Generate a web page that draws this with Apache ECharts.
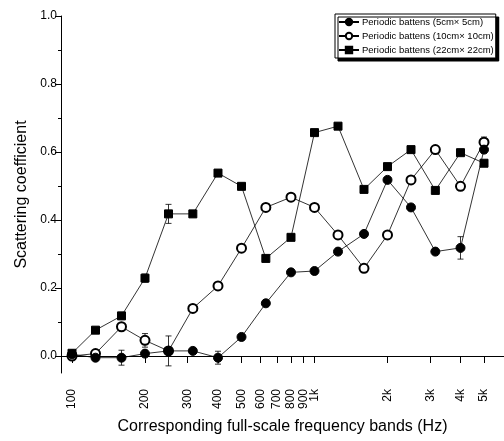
<!DOCTYPE html>
<html>
<head>
<meta charset="utf-8">
<script src="https://cdn.jsdelivr.net/npm/echarts@6/dist/echarts.min.js"></script>
<style>
  html, body { margin: 0; padding: 0; background: #fff; }
  #chart { width: 504px; height: 441px; }
</style>
</head>
<body>
<div id="chart"></div>
<script>
// third-octave band centres (Hz)
var freqs = [100, 125, 160, 200, 250, 315, 400, 500, 630, 800, 1000, 1250, 1600, 2000, 2500, 3150, 4000, 5000]

var names = ['Periodic battens (5cm\u00d7 5cm)', 'Periodic battens (10cm\u00d7 10cm)', 'Periodic battens (22cm\u00d7 22cm)']

var battens5 = [0.005, -0.005, -0.005, 0.007, 0.015, 0.015, -0.005, 0.056, 0.155, 0.246, 0.25, 0.307, 0.359, 0.518, 0.437, 0.307, 0.318, 0.607]
var battens10 = [0.0, 0.007, 0.086, 0.046, 0.015, 0.14, 0.206, 0.317, 0.437, 0.467, 0.437, 0.356, 0.258, 0.356, 0.518, 0.607, 0.499, 0.629]
var battens22 = [0.008, 0.076, 0.118, 0.229, 0.418, 0.418, 0.538, 0.499, 0.287, 0.349, 0.657, 0.676, 0.49, 0.557, 0.607, 0.487, 0.598, 0.567]

// half-length of error bars (0 = none drawn)
var err5 = [0.01, 0, 0.022, 0, 0, 0, 0.019, 0, 0, 0, 0, 0, 0, 0, 0, 0, 0.033, 0.01]
var err10 = [0, 0, 0.01, 0.02, 0.044, 0, 0, 0, 0, 0, 0, 0, 0, 0, 0, 0, 0.01, 0.015]
var err22 = [0, 0, 0.01, 0.012, 0.028, 0, 0, 0, 0, 0, 0, 0, 0, 0, 0, 0, 0, 0]

var tickFreqs = [100, 200, 300, 400, 500, 600, 700, 800, 900, 1000, 2000, 3000, 4000, 5000]
var tickLabels = ['100', '200', '300', '400', '500', '600', '700', '800', '900', '1k', '2k', '3k', '4k', '5k']
var yLabels = [0, 0.2, 0.4, 0.6, 0.8, 1.0]
var yMinor = [0.1, 0.3, 0.5, 0.7, 0.9]

var font = 'Liberation Sans, Arial, sans-serif'
var tickLogs = tickFreqs.map(function (f) { return Math.log10(f) })

function pts (vals) {
  return freqs.map(function (f, i) { return [Math.log10(f), vals[i]] })
}

function lineSeries (name, vals, symbol, z) {
  return {
    name: name,
    type: 'line',
    data: pts(vals),
    symbol: symbol,
    symbolSize: symbol === 'rect' ? 8 : 9,
    z: z,
    lineStyle: { color: '#000', width: 0.8 },
    itemStyle: { color: '#000', borderColor: '#000', borderWidth: 1 },
    emphasis: { disabled: true },
    animation: false
  }
}

function errorSeries (vals, errs, z) {
  var data = []
  freqs.forEach(function (f, i) {
    if (errs[i] > 0) data.push([Math.log10(f), vals[i] - errs[i], vals[i] + errs[i]])
  })
  return {
    type: 'custom',
    data: data,
    z: z,
    silent: true,
    animation: false,
    encode: { x: 0, y: [1, 2] },
    renderItem: function (params, api) {
      var x = api.value(0)
      var lo = api.coord([x, api.value(1)])
      var hi = api.coord([x, api.value(2)])
      var w = 3
      var st = { stroke: '#000', lineWidth: 0.8 }
      return {
        type: 'group',
        children: [
          { type: 'line', shape: { x1: lo[0], y1: lo[1], x2: hi[0], y2: hi[1] }, style: st },
          { type: 'line', shape: { x1: lo[0] - w, y1: lo[1], x2: lo[0] + w, y2: lo[1] }, style: st },
          { type: 'line', shape: { x1: hi[0] - w, y1: hi[1], x2: hi[0] + w, y2: hi[1] }, style: st }
        ]
      }
    }
  }
}

var chart = echarts.init(document.getElementById('chart'))
chart.setOption({
  backgroundColor: '#fff',
  animation: false,
  grid: { left: 61, right: 0, top: 16, bottom: 68 },
  legend: {
    data: names,
    orient: 'vertical',
    left: 335,
    top: 14,
    itemWidth: 20,
    itemHeight: 8,
    itemGap: 4,
    padding: [3, 2, 3, 3],
    backgroundColor: '#fff',
    borderColor: '#000',
    borderWidth: 1,
    shadowColor: '#000',
    shadowBlur: 0.1,
    shadowOffsetX: 3,
    shadowOffsetY: 3,
    textStyle: { fontSize: 9.5, color: '#000', fontFamily: font, padding: [0, 0, 0, -2] }
  },
  xAxis: {
    type: 'value',
    min: 2 - 11 / 242.5,
    max: 2 + 432 / 242.5,
    name: 'Corresponding full-scale frequency bands (Hz)',
    nameLocation: 'middle',
    nameGap: 46,
    nameTextStyle: { fontSize: 16, color: '#000', fontFamily: font },
    axisLine: { lineStyle: { color: '#000', width: 1 } },
    axisTick: { customValues: tickLogs, length: 7, lineStyle: { color: '#000' } },
    axisLabel: {
      customValues: tickLogs,
      rotate: 90,
      margin: 16,
      fontSize: 12,
      color: '#000',
      fontFamily: font,
      formatter: function (v) {
        var best = 0
        tickLogs.forEach(function (t, i) { if (Math.abs(t - v) < Math.abs(tickLogs[best] - v)) best = i })
        return tickLabels[best]
      }
    },
    splitLine: { show: false }
  },
  yAxis: [{
    type: 'value',
    min: -0.05,
    max: 1.0,
    name: 'Scattering coefficient',
    nameLocation: 'middle',
    nameGap: 30,
    nameTextStyle: { fontSize: 16, color: '#000', fontFamily: font },
    axisLine: { show: true, lineStyle: { color: '#000', width: 1 } },
    axisTick: { show: true, customValues: yLabels, length: 6, lineStyle: { color: '#000' } },
    axisLabel: {
      customValues: yLabels,
      margin: 4,
      fontSize: 12,
      color: '#000',
      fontFamily: font,
      formatter: function (v) { return v.toFixed(1) }
    },
    splitLine: { show: false }
  }, {
    type: 'value',
    position: 'left',
    min: -0.05,
    max: 1.0,
    axisLine: { show: false },
    axisTick: { show: true, customValues: yMinor, length: 3, lineStyle: { color: '#000' } },
    axisLabel: { show: false },
    splitLine: { show: false }
  }],
  series: [
    errorSeries(battens22, err22, 1),
    errorSeries(battens10, err10, 1),
    errorSeries(battens5, err5, 1),
    lineSeries(names[2], battens22, 'rect', 2),
    lineSeries(names[1], battens10, 'emptyCircle', 3),
    lineSeries(names[0], battens5, 'circle', 4)
  ]
})
</script>
</body>
</html>
